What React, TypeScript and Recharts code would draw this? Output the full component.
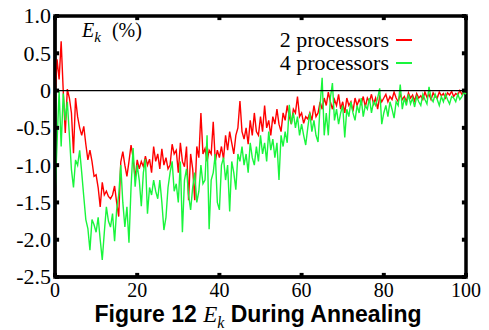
import React from 'react';
import {
  LineChart,
  Line,
  XAxis,
  YAxis,
  ReferenceLine,
  ReferenceArea,
} from 'recharts';

// x runs 0..100 in steps of 0.5
const X_STEP = 0.5;

const twoProc = [
  -0.1, 0.42, 0.15, 0.66, 0.0, -0.57, 0.02, -0.1, -0.3, -0.84,
  -0.1, -0.35, -0.5, -0.6, -0.48, -0.72, -0.93, -0.8, -0.95, -1.15,
  -1.13, -1.3, -1.56, -1.23, -1.4, -1.35, -1.42, -1.45, -1.4, -1.28,
  -1.5, -1.69, -0.96, -0.82, -1.0, -1.15, -0.95, -0.73, -0.9, -1.18,
  -0.93, -1.05, -0.95, -1.02, -0.88, -1.0, -0.92, -1.1, -0.75, -0.95,
  -0.85, -1.05, -0.78, -1.0, -0.9, -1.05, -1.0, -0.72, -0.85, -0.8,
  -1.1, -0.7, -0.95, -1.02, -0.75, -1.47, -0.85, -1.05, -1.47, -0.75,
  -0.9, -0.3, -0.85, -0.78, -0.95, -0.8, -0.85, -0.42, -0.95, -0.8,
  -0.9, -0.75, -0.92, -0.6, -0.8, -0.55, -0.7, -0.85, -0.6, -0.5,
  -0.14, -0.55, -0.65, -0.5, -0.72, -0.4, -0.6, -0.3, -0.55, -0.6,
  -0.35, -0.55, -0.2, -0.5, -0.4, -0.6, -0.35, -0.45, -0.25, -0.45,
  -0.55, -0.3, -0.4, -0.2, -0.35, -0.45, -0.25, -0.3, -0.08, -0.35,
  -0.3, -0.44, -0.35, -0.38, -0.3, -0.4, -0.2, -0.35, -0.3, -0.15,
  -0.25, -0.1, -0.2, -0.02, -0.15, -0.25, -0.12, -0.2, -0.05, -0.25,
  -0.15, -0.3, -0.1, -0.2, -0.15, -0.28, -0.1, -0.2, -0.12, -0.18,
  -0.08, -0.22, -0.1, -0.15, -0.05, -0.18, -0.1, -0.25, -0.08, -0.15,
  -0.1, -0.05, -0.15, -0.08, -0.12, -0.02, -0.1, -0.15, -0.05, -0.12,
  -0.08, -0.15, -0.03, -0.1, -0.06, -0.14, -0.04, -0.1, -0.07, -0.12,
  -0.02, -0.09, -0.05, -0.12, -0.03, -0.08, -0.1, -0.02, -0.07, -0.04,
  -0.1, -0.03, -0.06, -0.01, -0.08, -0.04, -0.06, 0.0, -0.05, -0.02,
  -0.04,
];

const fourProc = [
  -1.42, -0.7, -0.01, -0.75, -0.04, -0.4, -0.15, -0.6, -1.06, -1.3,
  -0.93, -1.0, -0.8, -1.1, -1.42, -1.73, -1.85, -2.14, -1.73, -1.8,
  -1.9, -1.7, -2.0, -2.27, -1.9, -1.56, -1.75, -1.83, -1.65, -2.02,
  -1.6, -1.4, -1.0, -1.5, -1.83, -1.56, -2.04, -1.3, -0.77, -1.29,
  -1.0, -1.2, -1.55, -1.1, -0.92, -1.65, -1.3, -1.4, -1.2, -1.35,
  -1.45, -1.2, -1.5, -1.87, -1.7, -1.3, -1.1, -0.95, -1.35, -1.25,
  -1.5, -0.95, -1.9, -1.2, -1.05, -1.4, -1.6, -1.3, -1.1, -1.5,
  -1.35, -1.0, -1.25, -1.2, -0.6, -1.86, -1.2, -1.1, -0.85, -1.5,
  -1.6, -1.0, -0.9, -1.2, -1.0, -1.62, -0.95, -1.1, -1.33, -0.85,
  -0.95, -0.75, -1.0, -0.85, -1.1, -0.7, -0.9, -1.0, -0.75, -0.95,
  -0.6, -0.85, -0.7, -0.95, -0.55, -0.8, -0.65, -0.9, -0.7, -1.2,
  -0.6, -0.75, -0.55, -0.7, -0.19, -0.45, -0.3, -0.5, -0.35, -0.6,
  -0.45, -0.6, -0.73, -0.5, -0.3, -0.55, -0.4, -0.6, -0.69, -0.2,
  0.17, -0.6, -0.3, -0.6, -0.1, 0.1, -0.4, -0.25, -0.45, -0.3,
  -0.2, -0.63, -0.25, -0.35, -0.15, -0.3, -0.4, -0.2, -0.3, -0.1,
  -0.35, -0.2, -0.25, -0.1, -0.3, -0.15, -0.2, -0.1, 0.03, -0.45,
  -0.3, -0.2, -0.35, -0.15, -0.25, -0.37, -0.15, -0.2, 0.08, -0.25,
  -0.1, -0.2, -0.05, -0.18, -0.1, -0.22, -0.08, -0.15, -0.2, -0.05,
  -0.12, -0.18, 0.05, -0.1, -0.15, -0.05, -0.12, -0.2, -0.08, -0.15,
  -0.05, -0.12, -0.18, -0.08, -0.1, -0.15, -0.05, -0.12, -0.08, -0.02,
  -0.05,
];

const xTicks = [0, 20, 40, 60, 80, 100];
const yTicks = [-2.5, -2, -1.5, -1, -0.5, 0, 0.5, 1];
const yTickLabels = ['-2.5', '-2.0', '-1.5', '-1.0', '-0.5', '0', '0.5', '1.0'];
const seriesNames = ['2 processors', '4 processors'];

const X_MIN = 0;
const X_MAX = 100;
const Y_MIN = -2.5;
const Y_MAX = 1;
// inward tick length in data units (about 4px)
const TICK_DX = 1;
const TICK_DY = 0.055;

const data = twoProc.map((v, i) => ({
  x: i * X_STEP,
  two: v,
  four: fourProc[i],
}));

const SERIF = '"Liberation Serif", "DejaVu Serif", serif';
const RED = '#ff0000';
const GREEN = '#19f53c';

const XTick = ({ x, y, payload }: any) => (
  <text x={x} y={y} dy="0.72em" textAnchor="middle" fontFamily={SERIF} fontSize={20} fill="#000">
    {payload.value}
  </text>
);

const YTick = ({ x, y, payload }: any) => (
  <text x={x} y={y} dy="0.34em" textAnchor="end" fontFamily={SERIF} fontSize={22} fill="#000">
    {yTickLabels[yTicks.indexOf(payload.value)]}
  </text>
);

// small inward tick marks on all four sides of the frame
const tickSegments = [
  ...xTicks.map((t) => [{ x: t, y: Y_MIN }, { x: t, y: Y_MIN + TICK_DY }]),
  ...xTicks.map((t) => [{ x: t, y: Y_MAX }, { x: t, y: Y_MAX - TICK_DY }]),
  ...yTicks.map((t) => [{ x: X_MIN, y: t }, { x: X_MIN + TICK_DX, y: t }]),
  ...yTicks.map((t) => [{ x: X_MAX - TICK_DX, y: t }, { x: X_MAX, y: t }]),
];

export default function App() {
  const axisStroke = { stroke: '#000', strokeWidth: 3 };
  return (
    <div style={{ position: 'absolute', left: 0, top: 0, width: 489, height: 330, background: '#fff' }}>
      <LineChart
        width={489}
        height={330}
        data={data}
        margin={{ top: 16, right: 23, bottom: 0, left: 0 }}
      >
        <XAxis
          xAxisId="x"
          dataKey="x"
          type="number"
          domain={[X_MIN, X_MAX]}
          ticks={xTicks}
          height={53}
          stroke="#000"
          axisLine={axisStroke}
          tickLine={false}
          tickSize={-4}
          tickMargin={10}
          tick={(p: any) => <XTick {...p} />}
        />
        <YAxis
          yAxisId="y"
          type="number"
          domain={[Y_MIN, Y_MAX]}
          ticks={yTicks}
          width={55}
          stroke="#000"
          axisLine={axisStroke}
          tickLine={false}
          tickSize={-4}
          tickMargin={8}
          tick={(p: any) => <YTick {...p} />}
        />
        <Line
          xAxisId="x"
          yAxisId="y"
          dataKey="two"
          name={seriesNames[0]}
          type="linear"
          stroke={RED}
          strokeWidth={1.4}
          dot={false}
          isAnimationActive={false}
        />
        <Line
          xAxisId="x"
          yAxisId="y"
          dataKey="four"
          name={seriesNames[1]}
          type="linear"
          stroke={GREEN}
          strokeWidth={1.4}
          dot={false}
          isAnimationActive={false}
        />
        <ReferenceLine xAxisId="x" yAxisId="y" y={0} stroke="#000" strokeWidth={1.2} />
        <ReferenceArea
          xAxisId="x"
          yAxisId="y"
          x1={X_MIN}
          x2={X_MAX}
          y1={Y_MIN}
          y2={Y_MAX}
          ifOverflow="visible"
          fill="#fff"
          fillOpacity={0}
          stroke="#000"
          strokeWidth={3.5}
          strokeOpacity={1}
        />
        {tickSegments.map((seg, i) => (
          <ReferenceLine
            key={`tick${i}`}
            xAxisId="x"
            yAxisId="y"
            ifOverflow="visible"
            segment={seg}
            stroke="#000"
            strokeWidth={4}
          />
        ))}
      </LineChart>

      {/* legend */}
      <div
        style={{
          position: 'absolute',
          top: 28,
          left: 200,
          width: 212,
          fontFamily: SERIF,
          fontSize: 22,
          lineHeight: '23px',
          color: '#000',
        }}
      >
        {[RED, GREEN].map((c, i) => (
          <div key={c} style={{ display: 'flex', alignItems: 'center', justifyContent: 'flex-end' }}>
            <span>{seriesNames[i]}</span>
            <span style={{ display: 'inline-block', width: 16, height: 2, marginLeft: 7, background: c }} />
          </div>
        ))}
      </div>

      <div
        style={{
          position: 'absolute',
          left: 82,
          top: 19,
          fontFamily: SERIF,
          fontSize: 20,
          color: '#000',
          whiteSpace: 'nowrap',
        }}
      >
        <i>E</i>
        <sub style={{ fontSize: 15, fontStyle: 'italic', verticalAlign: '-5px' }}>k</sub>
        <span style={{ marginLeft: 11 }}>(%)</span>
      </div>

      <div
        style={{
          position: 'absolute',
          left: 0,
          width: 516,
          top: 304,
          lineHeight: '20px',
          textAlign: 'center',
          fontFamily: '"Liberation Sans", Arial, sans-serif',
          fontWeight: 'bold',
          fontSize: 23,
          color: '#000',
          whiteSpace: 'nowrap',
        }}
      >
        Figure 12{' '}
        <span style={{ fontFamily: SERIF, fontWeight: 'normal', fontStyle: 'italic' }}>E</span>
        <sub style={{ fontFamily: SERIF, fontWeight: 'normal', fontStyle: 'italic', fontSize: 16, verticalAlign: '-6px' }}>k</sub>{' '}
        During Annealing
      </div>
    </div>
  );
}
